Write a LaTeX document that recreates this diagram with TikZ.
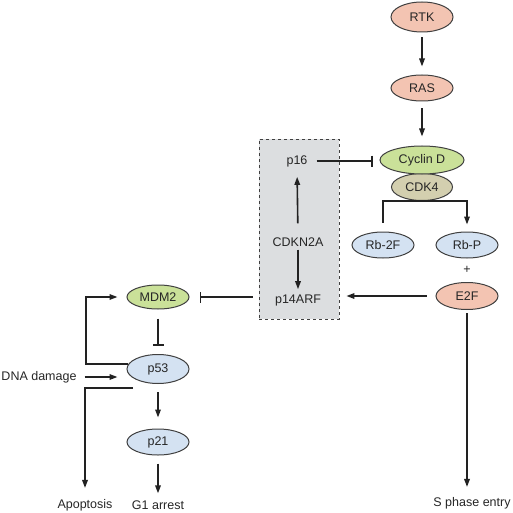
\documentclass[tikz,border=0pt]{standalone}
\usepackage{fontspec}
\setmainfont{Liberation Sans}
\usetikzlibrary{arrows.meta,shapes.geometric}
\definecolor{salmonfill}{HTML}{F3C4B2}
\definecolor{greenfill}{HTML}{CAE199}
\definecolor{khakifill}{HTML}{D3CFAF}
\definecolor{bluefill}{HTML}{D4E2F2}
\definecolor{boxfill}{HTML}{DCDEE0}
\definecolor{outl}{HTML}{404040}
\definecolor{lncol}{HTML}{222222}
\definecolor{txtcol}{HTML}{262626}
\begin{document}
\begin{tikzpicture}[x=1pt,y=-1pt,
  font=\fontsize{12.5}{14}\selectfont, text=txtcol,
  ell/.style={ellipse, draw=outl, line width=1pt, inner sep=0pt, minimum width=62pt, minimum height=26pt},
  lbl/.style={inner sep=0pt},
  conn/.style={draw=lncol, line width=1.6pt},
  arr/.style={conn, -{Triangle[length=8pt,width=5.5pt]}, shorten <=7pt, shorten >=8pt},
  inh/.style={conn, -{Bar[width=11pt,line width=1.6pt]}}
]
\useasboundingbox (0,0) rectangle (512,513);
% dashed box
\node[draw=outl, dashed, line width=0.8pt, fill=boxfill, minimum width=80pt, minimum height=180pt, inner sep=0pt] (box) at (299,229) {};
\node[lbl] (p16) at (297,161) {p16};
\node[lbl] (cdkn) at (298,242) {CDKN2A};
\node[lbl] (p14) at (298,300) {p14ARF};
% right column
\node[ell, fill=salmonfill, minimum height=30pt] (rtk) at (422,17) {RTK};
\node[ell, fill=salmonfill] (ras) at (422,88) {RAS};
\node[ell, fill=khakifill, minimum width=61pt, minimum height=27pt] (cdk4) at (422,187) {CDK4};
\node[ell, fill=greenfill, minimum width=84pt, minimum height=28pt] (cyc) at (422,160) {Cyclin D};
\node[ell, fill=bluefill] (rb2f) at (383,245) {Rb-2F};
\node[ell, fill=bluefill] (rbp) at (467,245) {Rb-P};
\node[lbl] (plus) at (467,270) {+};
\node[ell, fill=salmonfill, minimum height=27pt] (e2f) at (467,296) {E2F};
\node[lbl] (sph) at (472,503) {S phase entry};
% left column
\node[ell, fill=greenfill, minimum height=24pt] (mdm2) at (158,297) {MDM2};
\node[ell, fill=bluefill, minimum height=29pt] (p53) at (158,369) {p53};
\node[ell, fill=bluefill] (p21) at (158,442) {p21};
\node[lbl] (dna) at (39,377) {DNA damage};
\node[lbl] (apop) at (85,505) {Apoptosis};
\node[lbl] (g1) at (158,505) {G1 arrest};
\coordinate (lp) at (86,330);
\coordinate (ap0) at (133,388);
% connectors
\draw[arr, shorten <=5pt] (rtk) -- (ras);
\draw[arr, shorten >=9pt] (ras) -- (cyc);
\draw[inh, shorten <=9pt, shorten >=7pt] (p16.east) -- (p16.east -| cyc.west);
\draw[arr, shorten <=14pt, shorten >=10pt] (cdkn.north) -- (p16.south);
\draw[arr, shorten <=3pt, shorten >=5pt] (cdkn.south) -- (p14.north);
\draw[arr, shorten <=9pt, shorten >=7pt] (rb2f.north) |- (cdk4.south) -| (rbp.north);
\draw[arr, shorten <=9pt, shorten >=7pt] (e2f.west) -- (e2f.west -| box.east);
\draw[arr, shorten <=3pt, shorten >=10pt] (e2f.south) -- (e2f.south |- sph.north);
\draw[inh, shorten <=6pt, shorten >=10pt] (box.west |- mdm2.east) -- (mdm2.east);
\draw[inh, shorten <=9pt, shorten >=8pt] (mdm2) -- (p53);
\draw[arr, shorten <=0pt, shorten >=9pt] (p53.170) -- (p53.170 -| lp) |- (mdm2.west);
\draw[arr, shorten <=8pt, shorten >=9pt] (dna.east) -- (dna.east -| p53.west);
\draw[arr, shorten <=0pt, shorten >=11pt] (ap0) -| (apop.north);
\draw[arr, shorten <=8pt, shorten >=11pt] (p53) -- (p21);
\draw[arr, shorten <=8pt, shorten >=7pt] (p21) -- (g1);
\end{tikzpicture}
\end{document}
